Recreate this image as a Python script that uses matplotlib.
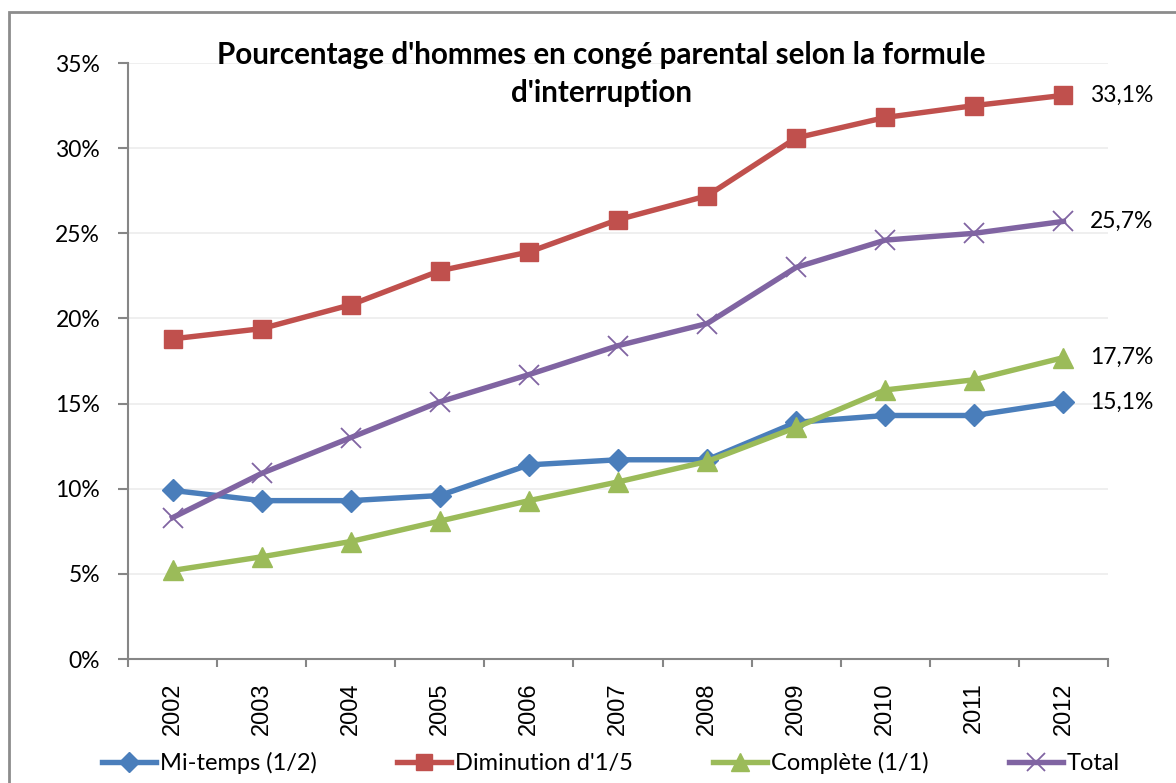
import matplotlib.pyplot as plt
from matplotlib.patches import Rectangle

# Data (% of men on parental leave, by interruption type)
years = ['2002', '2003', '2004', '2005', '2006', '2007', '2008', '2009', '2010', '2011', '2012']
mi_temps = [9.9, 9.3, 9.3, 9.6, 11.4, 11.7, 11.7, 13.9, 14.3, 14.3, 15.1]
diminution = [18.8, 19.4, 20.8, 22.8, 23.9, 25.8, 27.2, 30.6, 31.8, 32.5, 33.1]
complete = [5.2, 6.0, 6.9, 8.1, 9.3, 10.4, 11.6, 13.6, 15.8, 16.4, 17.7]
total = [8.3, 10.9, 13.0, 15.1, 16.7, 18.4, 19.7, 23.0, 24.6, 25.0, 25.7]

labels = ['Mi-temps (1/2)', "Diminution d'1/5", 'Complète (1/1)', 'Total']
end_labels = ['15,1%', '33,1%', '17,7%', '25,7%']

plt.rcParams['font.family'] = ['Lato', 'DejaVu Sans']

fig = plt.figure(figsize=(11.76, 7.83), dpi=100)
ax = fig.add_axes([128 / 1176, 1 - 659 / 783, 980 / 1176, 596 / 783])

# outer chart frame
fig.patches.append(Rectangle((9 / 1176, -0.1), 1.2, 1 - 12 / 783 + 0.1,
                             transform=fig.transFigure, fill=False,
                             edgecolor='#8c8c8c', linewidth=2))

x = list(range(len(years)))
series = [
    (mi_temps, '#4a7ebb', 'D', 11, 1.0),
    (diminution, '#c0504d', 's', 13, 1.0),
    (complete, '#9bbb59', '^', 14, 1.0),
    (total, '#8064a2', 'x', 15, 1.3),
]
handles = []
for (vals, color, mk, ms, mew), lab, end in zip(series, labels, end_labels):
    h, = ax.plot(x, vals, color=color, linewidth=3.9, marker=mk, markersize=ms,
                 markeredgewidth=mew, label=lab, zorder=3)
    handles.append(h)
    ax.annotate(end, (x[-1], vals[-1]), xytext=(19, 0), textcoords='offset points',
                va='center', ha='left', fontsize=16.5, color='black')

ax.set_xlim(-0.5, len(years) - 0.5)
ax.set_ylim(0, 35)
ax.set_yticks(range(0, 36, 5))
ax.set_yticklabels([f'{v}%' for v in range(0, 36, 5)], fontsize=16.5)
ax.set_xticks(x)
ax.set_xticklabels(years, rotation=90, fontsize=17, family='Liberation Sans')
ax.set_xticks([i - 0.5 for i in range(len(years) + 1)], minor=True)
ax.tick_params(axis='x', which='major', length=0, pad=17)
ax.tick_params(axis='x', which='minor', length=6, width=1.5, color='#868686')
ax.tick_params(axis='y', length=7, width=1.5, color='#868686', pad=13)

ax.grid(axis='y', color='#ececec', linewidth=1.2)
ax.set_axisbelow(True)
for side in ['top', 'right']:
    ax.spines[side].set_visible(False)
for side in ['left', 'bottom']:
    ax.spines[side].set_color('#868686')
    ax.spines[side].set_linewidth(1.5)

fig.text(601 / 1176, 1 - 41 / 783,
         "Pourcentage d'hommes en congé parental selon la formule\nd'interruption",
         ha='center', va='top', fontsize=21.3, fontweight='bold', linespacing=1.42)

fig.legend(handles=handles, loc='center', bbox_to_anchor=(611 / 1176, 1 - 763 / 783),
           ncol=4, frameon=False, fontsize=17, handlelength=2.3, handletextpad=0.15,
           columnspacing=3.4, markerscale=0.9)

fig.savefig('out.png', dpi=100, facecolor='white')
